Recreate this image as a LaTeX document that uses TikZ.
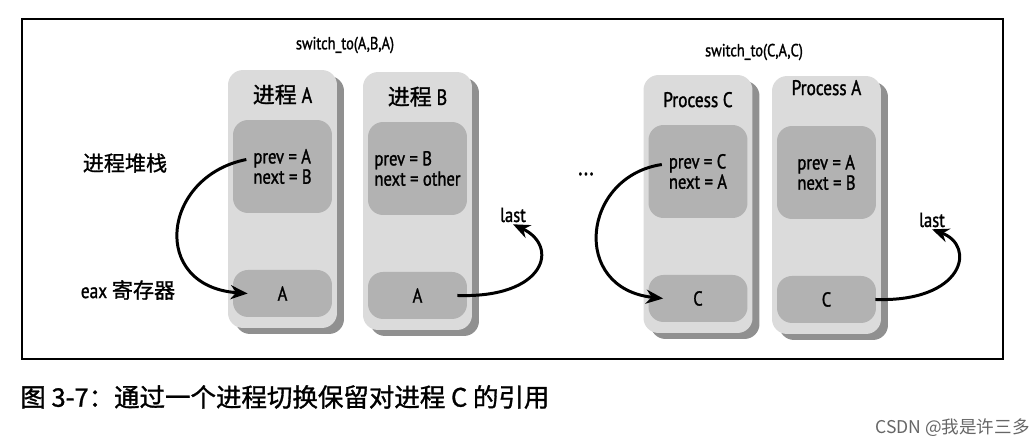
\documentclass[tikz,border=0pt]{standalone}
\usepackage{fontspec}
\setmainfont{Noto Sans CJK SC}
\newfontfamily\cond[FakeStretch=0.82, FakeBold=1.3]{PT Sans}
\newfontfamily\heavy[FakeBold=1.2]{Noto Sans CJK SC}
\usetikzlibrary{positioning, arrows.meta, shadows}

\definecolor{boxgray}{gray}{0.86}
\definecolor{slotgray}{gray}{0.70}
\definecolor{shadegray}{gray}{0.42}
\definecolor{markgray}{gray}{0.40}

\tikzset{
  proc/.style={rounded corners=0.3cm, fill=boxgray, minimum width=2.18cm,
    minimum height=5.16cm,
    drop shadow={shadow xshift=0.14cm, shadow yshift=-0.12cm, fill=shadegray, opacity=0.75}},
  stackbox/.style={rounded corners=0.3cm, fill=slotgray, minimum width=1.98cm, minimum height=1.86cm},
  regbox/.style={rounded corners=0.3cm, fill=slotgray, minimum width=1.98cm, minimum height=0.94cm},
  title/.style={inner sep=1pt, font=\heavy\fontsize{12.5}{14}\selectfont},
  vars/.style={inner sep=1pt, align=left, font=\cond\fontsize{11.5}{11.5}\selectfont},
  val/.style={inner sep=1pt, font=\cond\fontsize{11.5}{13}\selectfont},
  note/.style={inner sep=1pt, font=\heavy\fontsize{12}{14}\selectfont},
  call/.style={inner sep=1pt, font=\cond\fontsize{10}{12}\selectfont},
  link/.style={line width=1.7pt, -{Stealth[length=0.34cm, width=0.28cm]}}
}

\begin{document}
\begin{tikzpicture}[x=0.02cm, y=-0.02cm]
  \useasboundingbox (0,0) rectangle (1036,446);

  % cadre
  \draw[line width=0.9pt] (22,19) rectangle (1003,359);

  % switch_to(A,B,A)
  \node[call] (swAB) at (345,45) {switch\_to(A,B,A)};
  \node[proc] (procA) at (282.5,199) {};
  \node[proc] (procB) at (417.5,201) {};
  \node[title] (tA) at ([yshift=-0.5cm]procA.north) {进程 {\cond A}};
  \node[title] (tB) at ([yshift=-0.5cm]procB.north) {进程 {\cond B}};
  \node[stackbox, below=1cm of procA.north] (stackA) {};
  \node[stackbox, below=1cm of procB.north] (stackB) {};
  \node[regbox, above=0.22cm of procA.south] (regA) {};
  \node[regbox, above=0.22cm of procB.south] (regB) {};
  \node[vars] (txtA) at (stackA) {prev = A\\next = B};
  \node[vars] (txtB) at (stackB) {prev = B\\next = other};
  \node[val] (valA) at (regA) {A};
  \node[val] (valB) at (regB) {A};

  % labels a gauche
  \node[note] (stackLbl) at (125,163) {进程堆栈};
  \node[note] (eaxLbl) at (128,290) {{\cond eax} 寄存器};

  \node[val] (lastB) at (513,215) {last};
  \node[val, font=\cond\fontsize{14}{14}\selectfont] (dots) at (586,174) {...};

  % switch_to(C,A,C)
  \node[call] (swCA) at (754,52) {switch\_to(C,A,C)};
  \node[proc] (procC) at (698,204) {};
  \node[proc] (procAA) at (826.5,205) {};
  \node[title, font=\cond\fontsize{12}{14}\selectfont] (tC) at ([yshift=-0.5cm]procC.north) {Process C};
  \node[title, font=\cond\fontsize{12}{14}\selectfont] (tAA) at ([yshift=-0.24cm]procAA.north) {Process A};
  \node[stackbox, below=1cm of procC.north] (stackC) {};
  \node[stackbox, below=1cm of procAA.north] (stackAA) {};
  \node[regbox, above=0.22cm of procC.south] (regC) {};
  \node[regbox, above=0.22cm of procAA.south] (regAA) {};
  \node[vars] (txtC) at (stackC) {prev = C\\next = A};
  \node[vars] (txtAA) at (stackAA) {prev = A\\next = B};
  \node[val] (valC) at (regC) {C};
  \node[val] (valAA) at (regAA) {C};

  \node[val] (lastAA) at (932,220) {last};

  % fleches
  \draw[link] ([xshift=-0.1cm,yshift=0.14cm]txtA.west) .. controls +(-85,17) and +(-98,-7) .. ([xshift=0.3cm]regA.west);
  \draw[link] ([xshift=-0.2cm]regB.east) .. controls +(88,3) and +(47,22) .. (lastB.south);
  \draw[link] ([xshift=-0.1cm,yshift=0.14cm]txtC.west) .. controls +(-80,12) and +(-93,-10) .. ([xshift=0.3cm]regC.west);
  \draw[link] ([xshift=-0.02cm]regAA.east) .. controls +(88,3) and +(45,17) .. (lastAA.south);

  % legende
  \node[anchor=west, inner sep=0pt, font=\heavy\fontsize{14.5}{17}\selectfont] (caption) at (20,397)
    {图 3-7：通过一个进程切换保留对进程 C 的引用};
  \node[anchor=east, inner sep=0pt, text=markgray, font=\fontsize{10}{12}\selectfont] (mark) at (1030,428)
    {CSDN @我是许三多};
\end{tikzpicture}
\end{document}
